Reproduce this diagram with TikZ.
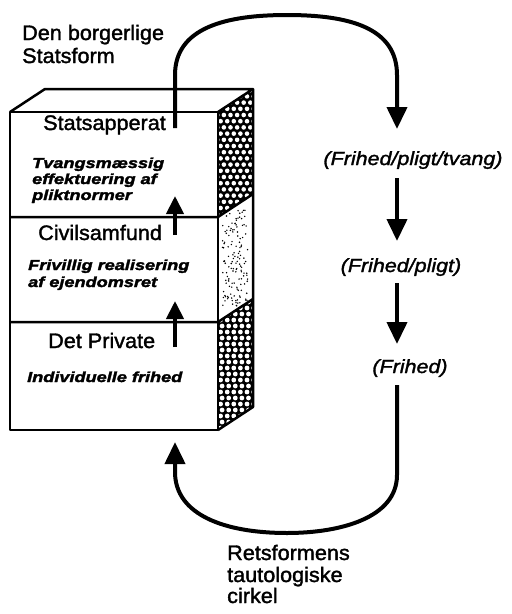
\documentclass[tikz,border=0pt]{standalone}
\usepackage{fontspec}
\usetikzlibrary{arrows.meta}
\newfontfamily\hv[FakeStretch=1.03,FakeBold=1.6]{Liberation Sans}
\newfontfamily\hvb[FakeStretch=1.25,FakeBold=2.2]{Liberation Sans}
\newfontfamily\hvi[FakeStretch=1.13,FakeBold=1.6]{Liberation Sans}
\begin{document}
\begin{tikzpicture}[x=1pt,y=-1pt,
  lbl/.style={anchor=base west,inner sep=0pt,font=\hv\fontsize{21}{23}\selectfont},
  desc/.style={anchor=base west,inner sep=0pt,font=\hvb\bfseries\itshape\fontsize{14.5}{16}\selectfont},
  state/.style={anchor=base,inner sep=0pt,font=\hvi\itshape\fontsize{19}{21}\selectfont},
  boxline/.style={line width=2.5pt,line join=round},
  flow/.style={line width=4pt},
  bigtip/.tip={Triangle[width=20pt,length=22pt]},
  smalltip/.tip={Triangle[width=17pt,length=18pt]}]
\useasboundingbox (0,0) rectangle (512,614);

% ---- side face patterns ----
% top segment (black with white dots)
\begin{scope}
  \clip (218,112) -- (253,89) -- (253,194) -- (218,217) -- cycle;
  \fill[black] (210,80) rectangle (260,225);
  \foreach \j in {0,...,22}{
    \foreach \i in {0,...,6}{
      \pgfmathsetmacro{\xx}{214+\i*6.6+mod(\j,2)*3.3}
      \pgfmathsetmacro{\yy}{84+\j*6.2}
      \fill[white] (\xx,\yy) circle (2.3pt);
    }
  }
\end{scope}
% middle segment (stippled)
\begin{scope}
  \clip (218,217) -- (253,194) -- (253,299) -- (218,322) -- cycle;
  \fill[white] (210,190) rectangle (260,330);
  \pgfmathsetseed{7}
  \foreach \k in {1,...,140}{
    \pgfmathsetmacro{\xx}{235+rand*13}
    \pgfmathsetmacro{\yy}{258+rand*48}
    \fill[black] (\xx,\yy) circle (0.8pt);
  }
\end{scope}
% bottom segment (black with white dots)
\begin{scope}
  \clip (218,322) -- (253,299) -- (253,407) -- (218,430) -- cycle;
  \fill[black] (210,290) rectangle (260,440);
  \foreach \j in {0,...,24}{
    \foreach \i in {0,...,6}{
      \pgfmathsetmacro{\xx}{214+\i*6.6+mod(\j,2)*1.5}
      \pgfmathsetmacro{\yy}{296+\j*6}
      \fill[white] (\xx,\yy) circle (2.4pt);
    }
  }
\end{scope}

% ---- box outlines ----
\draw[boxline] (10,112) rectangle (218,430);
\draw[boxline] (10,112) -- (45,89) -- (253,89) -- (218,112);
\draw[boxline] (253,89) -- (253,407) -- (218,430);
\draw[boxline] (10,217) -- (218,217) -- (253,194);
\draw[boxline] (10,322) -- (218,322) -- (253,299);

% ---- texts ----
\node[lbl] (den1) at (22,40) {Den borgerlige};
\node[lbl] (den2) at (22,63) {Statsform};

\node[lbl] (stat) at (43,130) {Statsapperat};
\node[desc] (d1) at (32,168) {Tvangsmæssig};
\node[desc] (d2) at (32,184) {effektuering af};
\node[desc] (d3) at (32,200) {pliktnormer};

\node[lbl] (civ) at (38,240) {Civilsamfund};
\node[desc] (c1) at (28,270) {Frivillig realisering};
\node[desc] (c2) at (28,287) {af ejendomsret};

\node[lbl] (priv) at (48,348) {Det Private};
\node[desc] (p1) at (27,382) {Individuelle frihed};

\node[state] (s1) at (413,165) {(Frihed/pligt/tvang)};
\node[state] (s2) at (401,272) {(Frihed/pligt)};
\node[state] (s3) at (410,373) {(Frihed)};

\node[lbl] (r1) at (227,560) {Retsformens};
\node[lbl] (r2) at (227,582) {tautologiske};
\node[lbl] (r3) at (227,603) {cirkel};

% ---- coordinates ----
\coordinate (startA) at (175,128);
\coordinate (tipA) at (397,129);
\coordinate (a2s) at (397,178);
\coordinate (a2e) at (397,241);
\coordinate (a3s) at (397,283);
\coordinate (a3e) at (397,344);
\coordinate (a4s) at (397,385);
\coordinate (tipB) at (175,442);
\coordinate (in1s) at (175,235);
\coordinate (in1e) at (175,196);
\coordinate (in2s) at (175,347);
\coordinate (in2e) at (175,301);

% ---- connectors ----
\draw[flow,-bigtip] (startA) -- (175,75)
  .. controls (175,28) and (225,15) .. (287,15)
  .. controls (350,15) and (397,28) .. (397,75) -- (tipA);
\draw[flow,-bigtip] (a2s) -- (a2e);
\draw[flow,-bigtip] (a3s) -- (a3e);
\draw[flow,-bigtip] (a4s) -- (397,475)
  .. controls (397,518) and (340,533) .. (287,533)
  .. controls (225,533) and (175,515) .. (175,472) -- (tipB);
\draw[flow,-smalltip] (in1s) -- (in1e);
\draw[flow,-smalltip] (in2s) -- (in2e);
\end{tikzpicture}
\end{document}
